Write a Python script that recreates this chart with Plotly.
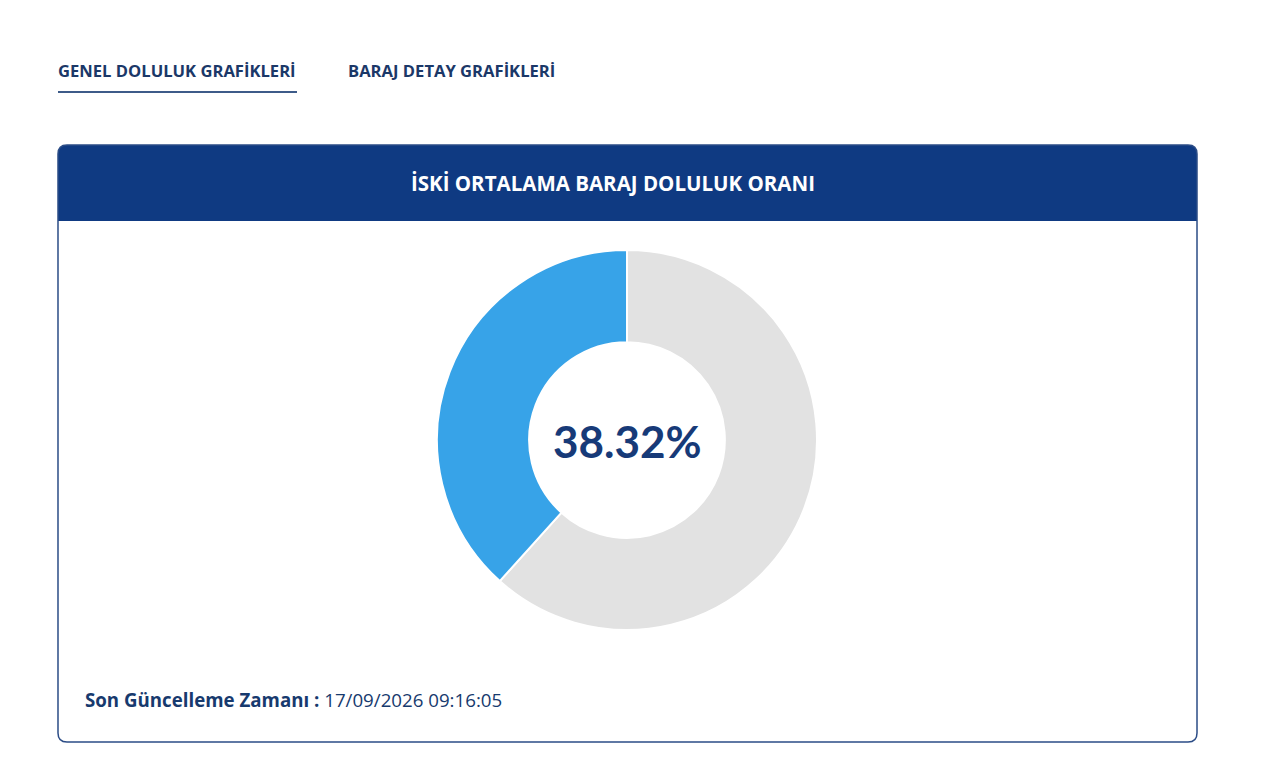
import plotly.graph_objects as go

# ---- data ----
labels = ["Dolu", "Boş"]
values = [38.32, 61.68]
slice_colors = ["#37a3e8", "#e2e2e2"]
center_label = "38.32%"
title_text = "İSKİ ORTALAMA BARAJ DOLULUK ORANI"
tabs = ["GENEL DOLULUK GRAFİKLERİ", "BARAJ DETAY GRAFİKLERİ"]
footer_label = "Son Güncelleme Zamanı :"
footer_value = "17/09/2026 09:16:05"

W, H = 1280, 770
OFF = 8  # page body margin compensation
HEADER = "#0f3a82"
FONT = "Open Sans"


def px(x):
    return (x - OFF) / W


def py(y):
    return 1 - (y - OFF) / H


def path(points_cmds):
    out = []
    for cmd in points_cmds:
        if isinstance(cmd, str):
            out.append(cmd)
        else:
            out.append(f"{px(cmd[0]):.5f},{py(cmd[1]):.5f}")
    return " ".join(out)


L, R, T, B, HB, RAD = 58, 1197, 145, 742, 221, 9

card_path = path(["M", (L, T + RAD), "Q", (L, T), (L + RAD, T), "L", (R - RAD, T),
                  "Q", (R, T), (R, T + RAD), "L", (R, B - RAD), "Q", (R, B), (R - RAD, B),
                  "L", (L + RAD, B), "Q", (L, B), (L, B - RAD), "Z"])
header_path = path(["M", (L, HB), "L", (L, T + RAD), "Q", (L, T), (L + RAD, T),
                    "L", (R - RAD, T), "Q", (R, T), (R, T + RAD), "L", (R, HB), "Z"])

cx, cy, rad = 627, 440, 190

# draw the empty part first (clockwise from 12 o'clock) so the filled part sits on the left
fig = go.Figure(go.Pie(
    labels=labels[::-1],
    values=values[::-1],
    hole=0.515,
    sort=False,
    direction="clockwise",
    rotation=0,
    marker=dict(colors=slice_colors[::-1], line=dict(color="white", width=2)),
    textinfo="none",
    hoverinfo="skip",
    showlegend=False,
    domain=dict(x=[px(cx - rad), px(cx + rad)], y=[py(cy + rad), py(cy - rad)]),
))

shapes = [
    dict(type="path", path=header_path, xref="paper", yref="paper",
         fillcolor=HEADER, line=dict(width=0), layer="below"),
    dict(type="path", path=card_path, xref="paper", yref="paper",
         fillcolor="rgba(0,0,0,0)", line=dict(color="#2b4c86", width=1.5), layer="above"),
    dict(type="line", xref="paper", yref="paper", x0=px(58), x1=px(297), y0=py(92), y1=py(92),
         line=dict(color="#3d5b89", width=2)),
]

annotations = [
    dict(text=f"<b>{tabs[0]}</b>", x=px(56), y=py(70), xref="paper", yref="paper",
         xanchor="left", yanchor="middle", showarrow=False,
         font=dict(family=FONT, size=16.6, color="#1b3868")),
    dict(text=f"<b>{tabs[1]}</b>", x=px(346), y=py(70), xref="paper", yref="paper",
         xanchor="left", yanchor="middle", showarrow=False,
         font=dict(family=FONT, size=16.6, color="#1b3868")),
    dict(text=f"<b>{title_text}</b>", x=px(613), y=py(183), xref="paper", yref="paper",
         xanchor="center", yanchor="middle", showarrow=False,
         font=dict(family=FONT, size=20.5, color="white")),
    dict(text=f"<b>{center_label}</b>", x=px(cx), y=py(cy + 1), xref="paper", yref="paper",
         xanchor="center", yanchor="middle", showarrow=False,
         font=dict(family="Lato", size=44, color="#173a78")),
    dict(text=f"<b>{footer_label}</b> {footer_value}", x=px(83), y=py(699), xref="paper", yref="paper",
         xanchor="left", yanchor="middle", showarrow=False,
         font=dict(family=FONT, size=18.7, color="#173a6e")),
]

fig.update_layout(
    width=W, height=H,
    margin=dict(l=0, r=0, t=0, b=0),
    paper_bgcolor="white",
    plot_bgcolor="white",
    shapes=shapes,
    annotations=annotations,
    showlegend=False,
)

fig.write_html("out.html")
